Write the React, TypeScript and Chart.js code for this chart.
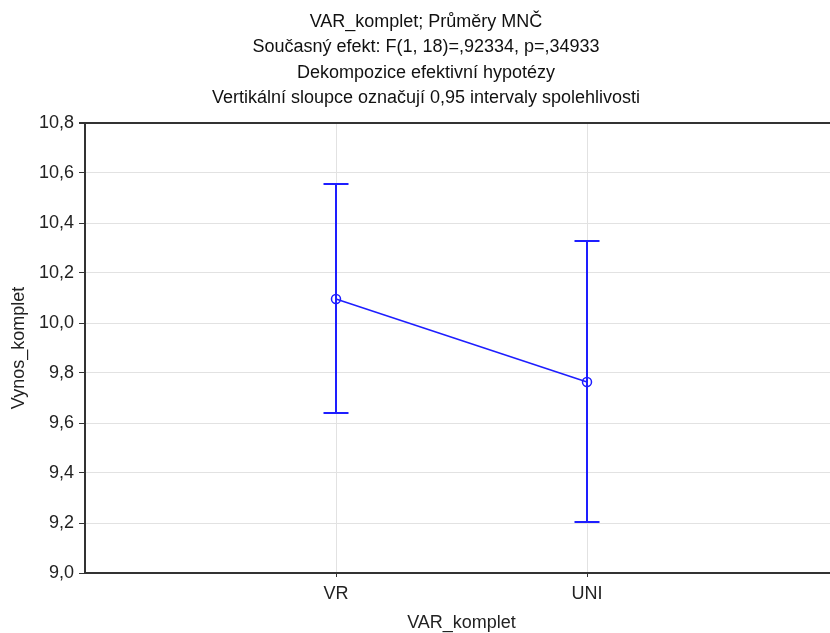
import React, { useEffect, useRef } from "react";
import { Chart, registerables } from "chart.js";

Chart.register(...registerables);

const titleLines = [
  "VAR_komplet; Průměry MNČ",
  "Současný efekt: F(1, 18)=,92334, p=,34933",
  "Dekompozice efektivní hypotézy",
  "Vertikální sloupce označují 0,95 intervaly spolehlivosti",
];
const categories = ["VR", "UNI"];
const means = [10.096, 9.764];
const upperCI = [10.556, 10.328];
const lowerCI = [9.64, 9.204];
const yTicksMin = 9.0;
const yTicksMax = 10.8;
const xAxisTitle = "VAR_komplet";
const yAxisTitle = "Vynos_komplet";

const BLUE = "rgb(30,30,255)";
const FONT = "'Liberation Sans', Arial, sans-serif";
const FS = 18;

const errorBarPlugin = {
  id: "errorBars",
  beforeDatasetsDraw(chart: any) {
    const { ctx, scales } = chart;
    const xs = scales.x;
    const ys = scales.y;
    ctx.save();
    ctx.strokeStyle = BLUE;
    ctx.lineWidth = 2;
    categories.forEach((_, i) => {
      const x = xs.getPixelForValue(i + 1);
      const yTop = ys.getPixelForValue(upperCI[i]);
      const yBot = ys.getPixelForValue(lowerCI[i]);
      const cap = 12.5;
      ctx.beginPath();
      ctx.moveTo(x, yTop);
      ctx.lineTo(x, yBot);
      ctx.moveTo(x - cap, yTop);
      ctx.lineTo(x + cap, yTop);
      ctx.moveTo(x - cap, yBot);
      ctx.lineTo(x + cap, yBot);
      ctx.stroke();
    });
    ctx.restore();
  },
};

export default function App() {
  const ref = useRef<HTMLCanvasElement | null>(null);
  useEffect(() => {
    if (!ref.current) return;
    const near = (v: number, t: number) => Math.abs(v - t) < 1e-6;
    const chart = new Chart(ref.current, {
      type: "scatter",
      data: {
        datasets: [
          {
            data: means.map((m, i) => ({ x: i + 1, y: m })),
            showLine: true,
            borderColor: BLUE,
            borderWidth: 1.5,
            pointRadius: 4.5,
            pointBorderWidth: 1.5,
            pointBorderColor: BLUE,
            pointBackgroundColor: "rgba(0,0,0,0)",
            pointHoverRadius: 4.5,
          },
        ],
      },
      options: {
        animation: false,
        responsive: false,
        maintainAspectRatio: false,
        layout: { padding: { left: 14, right: 14, top: 0, bottom: 0 } },
        plugins: {
          legend: { display: false },
          tooltip: { enabled: false },
          title: {
            display: true,
            text: titleLines,
            color: "#111",
            font: { family: FONT, size: FS, weight: "normal", lineHeight: 25.5 / FS },
            padding: { top: 9, bottom: 12 },
          },
        },
        scales: {
          x: {
            type: "linear",
            min: 0,
            max: 3,
            afterFit: (s: any) => {
              s.height = 60;
            },
            ticks: {
              stepSize: 1,
              autoSkip: false,
              maxRotation: 0,
              padding: 6,
              color: "#222",
              font: { family: FONT, size: FS },
              callback: (v: any) => categories[Number(v) - 1] ?? "",
            },
            grid: {
              color: (c: any) => {
                const v = c.tick?.value;
                return v >= 1 && v <= categories.length ? "#e2e2e2" : "rgba(0,0,0,0)";
              },
              tickColor: (c: any) => {
                const v = c.tick?.value;
                return v >= 1 && v <= categories.length ? "#333" : "rgba(0,0,0,0)";
              },
              tickLength: 4,
              lineWidth: 1,
            },
            border: { display: true, color: "#333", width: 2 },
            title: {
              display: true,
              text: xAxisTitle,
              color: "#222",
              font: { family: FONT, size: FS },
              padding: { top: 0, bottom: -0.5 },
            },
          },
          y: {
            min: yTicksMin,
            max: yTicksMax,
            afterFit: (s: any) => {
              s.width = 71;
            },
            ticks: {
              stepSize: 0.2,
              padding: 5,
              color: "#222",
              font: { family: FONT, size: FS },
              callback: (v: any) => Number(v).toFixed(1).replace(".", ","),
            },
            grid: {
              color: (c: any) => (near(c.tick?.value, yTicksMax) ? "#333" : "#e2e2e2"),
              lineWidth: (c: any) => (near(c.tick?.value, yTicksMax) ? 2 : 1),
              tickColor: "#333",
              tickLength: 6,
            },
            border: { display: true, color: "#333", width: 2 },
            title: {
              display: true,
              text: yAxisTitle,
              color: "#222",
              font: { family: FONT, size: FS },
              padding: { top: -6, bottom: 0 },
            },
          },
        },
      },
      plugins: [errorBarPlugin],
    } as any);
    return () => chart.destroy();
  }, []);
  return (
    <div
      style={{
        position: "fixed",
        left: 0,
        top: 0,
        width: 830,
        height: 633,
        overflow: "hidden",
        background: "#fff",
      }}
    >
      <canvas ref={ref} width={852} height={633} style={{ display: "block", width: 852, height: 633 }} />
    </div>
  );
}
